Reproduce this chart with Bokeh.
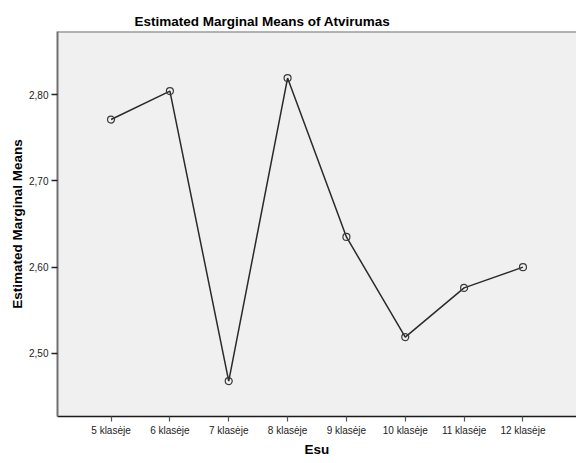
from bokeh.plotting import figure
from bokeh.models import FactorRange, Range1d, FixedTicker, CustomJSTickFormatter, Span
from bokeh.embed import file_html
from bokeh.resources import INLINE

categories = ["5 klasėje", "6 klasėje", "7 klasėje", "8 klasėje",
              "9 klasėje", "10 klasėje", "11 klasėje", "12 klasėje"]
means = [2.771, 2.804, 2.468, 2.819, 2.635, 2.519, 2.576, 2.600]
y_ticks = [2.5, 2.6, 2.7, 2.8]
y_start, y_end = 2.427, 2.873

FONT = "Liberation Sans"

p = figure(width=576, height=463, output_backend="svg", toolbar_location=None,
           x_range=FactorRange(factors=categories, range_padding=0.1025),
           y_range=Range1d(y_start, y_end),
           min_border_left=57, min_border_right=0, min_border_top=31, min_border_bottom=47)

p.title.text = "Estimated Marginal Means of Atvirumas"
p.title.align = "left"
p.title.offset = 77
p.title.text_font = FONT
p.title.text_font_size = "13.5px"
p.title.text_font_style = "bold"
p.title.text_color = "#000000"
p.title.standoff = 6

p.background_fill_color = "#f0f0f0"
p.border_fill_color = "white"
p.outline_line_color = None
p.xgrid.visible = False
p.ygrid.visible = False

# top frame edge (gray), left edge drawn by the y axis line
p.add_layout(Span(location=y_end, dimension="width", line_color="#707070", line_width=2))

p.line(x=categories, y=means, line_color="#2a2a2a", line_width=1.5)
p.scatter(x=categories, y=means, marker="circle", size=7, fill_color=None,
          line_color="#3a3a3a", line_width=1.2)

# y axis
ya = p.yaxis[0]
ya.ticker = FixedTicker(ticks=y_ticks)
ya.formatter = CustomJSTickFormatter(code="return tick.toFixed(2).replace('.', ',');")
ya.axis_label = "Estimated Marginal Means"
ya.axis_label_text_font = FONT
ya.axis_label_text_font_size = "13.5px"
ya.axis_label_text_font_style = "bold"
ya.axis_label_text_color = "#000000"
ya.axis_label_standoff = 1
ya.major_label_text_font = FONT
ya.major_label_text_font_size = "10px"
ya.major_label_text_color = "#222222"
ya.major_label_standoff = 3
ya.major_tick_out = 6
ya.major_tick_in = 0
ya.major_tick_line_color = "#222222"
ya.major_tick_line_width = 1.5
ya.minor_tick_line_color = None
ya.axis_line_color = "#707070"
ya.axis_line_width = 2

# x axis
xa = p.xaxis[0]
xa.axis_label = "Esu"
xa.axis_label_text_font = FONT
xa.axis_label_text_font_size = "13.5px"
xa.axis_label_text_font_style = "bold"
xa.axis_label_text_color = "#000000"
xa.axis_label_standoff = 3
xa.major_label_text_font = FONT
xa.major_label_text_font_size = "10px"
xa.major_label_text_color = "#222222"
xa.major_label_standoff = 3
xa.major_tick_out = 5
xa.major_tick_in = 0
xa.major_tick_line_color = "#555555"
xa.major_tick_line_width = 1.2
xa.axis_line_color = "#1a1a1a"
xa.axis_line_width = 1.5

open("out.html", "w").write(file_html(p, INLINE))
